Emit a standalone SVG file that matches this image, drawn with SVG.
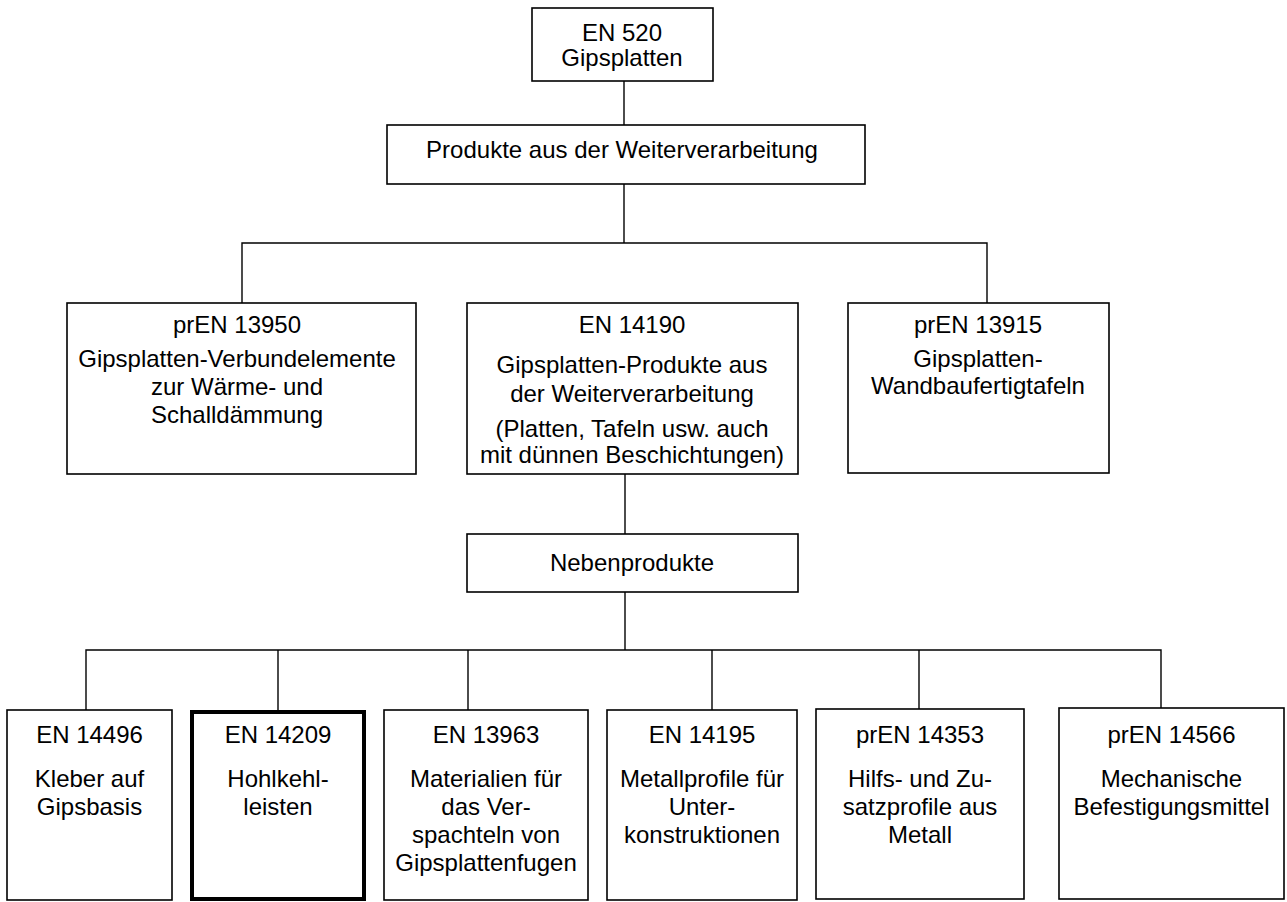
<svg xmlns="http://www.w3.org/2000/svg" width="1287" height="902" viewBox="0 0 1287 902">
<style>
.box{fill:#fff;stroke:#000;stroke-width:1.6}
.thick{fill:#fff;stroke:#000;stroke-width:4}
.t{font-family:"Liberation Sans",Arial,sans-serif;font-size:24px;fill:#000;text-anchor:middle}
.c{fill:none;stroke:#000;stroke-width:1.4}
</style>
<rect width="1287" height="902" fill="#fff"/>
<g id="connectors">
<path class="c" d="M624 81V125"/>
<path class="c" d="M624 184V243"/>
<path class="c" d="M242 303V243H987V303"/>
<path class="c" d="M625 474V534"/>
<path class="c" d="M625 592V650"/>
<path class="c" d="M86 710V650H1161V709"/>
<path class="c" d="M278 650V711"/>
<path class="c" d="M468 650V710"/>
<path class="c" d="M712 650V710"/>
<path class="c" d="M919 650V709"/>
</g>
<g id="en520">
<rect class="box" x="532" y="8" width="181" height="73"/>
<text class="t" x="622" y="41">EN 520</text>
<text class="t" x="622" y="66">Gipsplatten</text>
</g>
<g id="produkte">
<rect class="box" x="387" y="125" width="478" height="59"/>
<text class="t" x="622" y="158">Produkte aus der Weiterverarbeitung</text>
</g>
<g id="pren13950">
<rect class="box" x="67" y="303" width="349" height="171"/>
<text class="t" x="237" y="333">prEN 13950</text>
<text class="t" x="237" y="367">Gipsplatten-Verbundelemente</text>
<text class="t" x="237" y="395">zur Wärme- und</text>
<text class="t" x="237" y="423">Schalldämmung</text>
</g>
<g id="en14190">
<rect class="box" x="467" y="303" width="331" height="171"/>
<text class="t" x="632" y="333">EN 14190</text>
<text class="t" x="632" y="373">Gipsplatten-Produkte aus</text>
<text class="t" x="632" y="402">der Weiterverarbeitung</text>
<text class="t" x="632" y="437">(Platten, Tafeln usw. auch</text>
<text class="t" x="632" y="463">mit dünnen Beschichtungen)</text>
</g>
<g id="pren13915">
<rect class="box" x="848" y="303" width="261" height="170"/>
<text class="t" x="978" y="333">prEN 13915</text>
<text class="t" x="978" y="367">Gipsplatten-</text>
<text class="t" x="978" y="394">Wandbaufertigtafeln</text>
</g>
<g id="nebenprodukte">
<rect class="box" x="467" y="534" width="331" height="58"/>
<text class="t" x="632" y="571">Nebenprodukte</text>
</g>
<g id="en14496">
<rect class="box" x="7" y="710" width="165" height="190"/>
<text class="t" x="89.5" y="743">EN 14496</text>
<text class="t" x="89.5" y="787">Kleber auf</text>
<text class="t" x="89.5" y="815">Gipsbasis</text>
</g>
<g id="en14209">
<rect class="thick" x="192" y="712" width="172" height="187"/>
<text class="t" x="278" y="743">EN 14209</text>
<text class="t" x="278" y="787">Hohlkehl-</text>
<text class="t" x="278" y="815">leisten</text>
</g>
<g id="en13963">
<rect class="box" x="384" y="710" width="204" height="190"/>
<text class="t" x="486" y="743">EN 13963</text>
<text class="t" x="486" y="787">Materialien für</text>
<text class="t" x="486" y="815">das Ver-</text>
<text class="t" x="486" y="843">spachteln von</text>
<text class="t" x="486" y="871">Gipsplattenfugen</text>
</g>
<g id="en14195">
<rect class="box" x="607" y="710" width="190" height="190"/>
<text class="t" x="702" y="743">EN 14195</text>
<text class="t" x="702" y="787">Metallprofile für</text>
<text class="t" x="702" y="815">Unter-</text>
<text class="t" x="702" y="843">konstruktionen</text>
</g>
<g id="pren14353">
<rect class="box" x="816" y="709" width="208" height="190"/>
<text class="t" x="920" y="743">prEN 14353</text>
<text class="t" x="920" y="787">Hilfs- und Zu-</text>
<text class="t" x="920" y="815">satzprofile aus</text>
<text class="t" x="920" y="843">Metall</text>
</g>
<g id="pren14566">
<rect class="box" x="1059" y="708" width="225" height="191"/>
<text class="t" x="1171.5" y="743">prEN 14566</text>
<text class="t" x="1171.5" y="787">Mechanische</text>
<text class="t" x="1171.5" y="815">Befestigungsmittel</text>
</g>
</svg>
